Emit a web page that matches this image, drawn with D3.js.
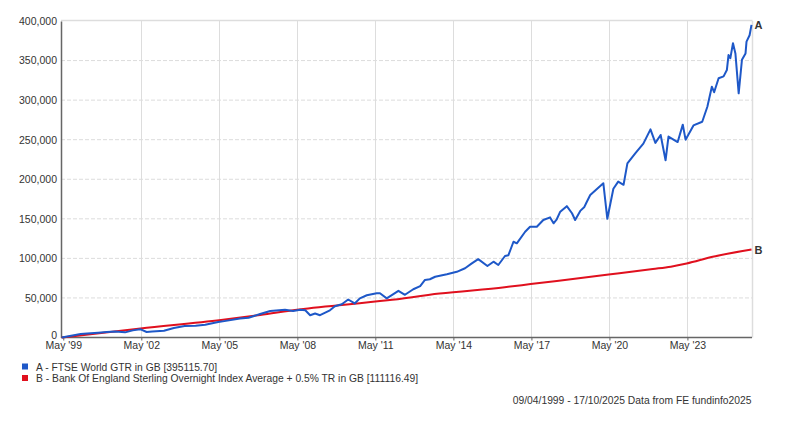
<!DOCTYPE html>
<html>
<head>
<meta charset="utf-8">
<script src="https://cdn.jsdelivr.net/npm/d3@7"></script>
<style>
  html, body { margin: 0; padding: 0; background: #fff; }
  svg { display: block; font-family: "Liberation Sans", Arial, sans-serif; }
</style>
</head>
<body>
<svg id="chart" width="800" height="430"></svg>
<script>
// ---- data ----
const seriesNames = [
  "A - FTSE World GTR in GB [395115.70]",
  "B - Bank Of England Sterling Overnight Index Average + 0.5% TR in GB [111116.49]"
];
const seriesTags = ["A", "B"];
const footerText = "09/04/1999 - 17/10/2025 Data from FE fundinfo2025";
const startDate = "1999-04-09";
const endDate = "2025-10-17";
const yTickValues = [0, 50000, 100000, 150000, 200000, 250000, 300000, 350000, 400000];
const xTickDates = ["1999-05-01","2002-05-01","2005-05-01","2008-05-01","2011-05-01","2014-05-01","2017-05-01","2020-05-01","2023-05-01"];

const ftseDates = [
  "1999-04-09","1999-08-01","1999-12-31","2000-04-01","2000-09-01","2001-01-01","2001-05-01","2001-09-15",
  "2002-01-01","2002-04-15","2002-07-15","2002-10-01","2003-03-15","2003-08-01","2003-12-31","2004-06-01",
  "2004-10-15","2005-04-15","2005-08-01","2006-02-15","2006-06-15","2006-11-25","2007-04-15","2007-11-10",
  "2008-03-01","2008-06-10","2008-08-20","2008-10-27","2009-01-05","2009-03-15","2009-08-01","2009-10-10",
  "2010-01-15","2010-04-15","2010-07-15","2010-09-25","2011-01-01","2011-05-20","2011-07-05","2011-10-08",
  "2012-03-20","2012-06-20","2012-10-15","2013-01-20","2013-03-28","2013-06-05","2013-08-18","2014-01-30",
  "2014-06-18","2014-10-12","2015-01-15","2015-04-15","2015-08-22","2015-11-15","2016-01-22","2016-04-25",
  "2016-06-12","2016-08-22","2016-10-08","2017-02-02","2017-04-12","2017-07-16","2017-10-15","2018-01-18",
  "2018-03-08","2018-04-22","2018-06-10","2018-09-10","2018-11-22","2019-01-05","2019-03-18","2019-05-15",
  "2019-06-10","2019-08-05","2019-10-30","2020-02-05",
  "2020-04-01","2020-06-25","2020-09-01","2020-11-15","2021-01-08","2021-05-01","2021-08-20","2021-11-28",
  "2022-02-05","2022-04-20","2022-06-28","2022-08-08","2022-12-15","2023-02-25","2023-04-05","2023-07-25",
  "2023-11-25","2024-02-05","2024-04-08","2024-05-10","2024-07-12","2024-09-20","2024-11-05","2024-11-28",
  "2024-12-24","2025-01-30","2025-03-05","2025-04-20","2025-06-05","2025-07-25","2025-08-08","2025-09-20",
  "2025-10-17"
];
const ftseValues = [
  0, 1800, 4500, 5200, 6000, 6800, 7500, 6500,
  9000, 10500, 7000, 7500, 8500, 12000, 14500, 15000,
  16000, 19500, 21000, 24000, 25000, 29700, 33500, 35000,
  33500, 35000, 34400, 28200, 30300, 28200, 34400, 39500,
  42000, 48000, 43000, 49400, 53400, 56000, 56000, 49500,
  59000, 54000, 61000, 65000, 72700, 73600, 76800, 80000,
  83000, 87500, 93600, 99000, 90400, 95800, 91600, 103000,
  104000, 121000, 119000, 133700, 140000, 140000, 148500, 151800,
  144300, 149400, 159000, 166000, 157000, 148500, 160000, 165000,
  170000, 180000, 187000, 195000,
  150000, 188000, 197000, 193000, 220000, 233000, 245000, 263000,
  246000, 256000, 224000, 254000, 247000, 269000, 250000, 268000,
  272700, 291600, 317000, 310000, 327600, 330000, 338000, 357000,
  353000, 372000, 359000, 308600, 351000, 359000, 374000, 382000,
  395115.7
];

const boeDates = [
  "1999-04-09","2002-04-20","2005-05-25","2006-11-25","2008-05-25","2011-10-20","2013-10-20",
  "2016-04-20","2017-04-20","2020-04-20","2022-01-01","2022-09-10","2023-04-20","2024-04-20","2025-10-17"
];
const boeValues = [
  0, 11500, 22000, 28500, 35500, 47000, 55500,
  63500, 67500, 79500, 86500, 89500, 93500, 102000, 111116.49
];

// ---- layout ----
const svg = d3.select("#chart");
const parse = d3.timeParse("%Y-%m-%d");
const plotLeft = 61, plotRight = 752, plotTop = 21, plotBottom = 337.5;
const colors = ["#1e58c8", "#e0101e"];

const x = d3.scaleTime()
  .domain([parse(startDate), parse(endDate)])
  .range([61.7, 751.5]);
const y = d3.scaleLinear().domain([0, 400000]).range([plotBottom, plotTop]);

// horizontal dashed gridlines
svg.append("g")
  .selectAll("line")
  .data(yTickValues.filter(v => v > 0 && v < 400000))
  .join("line")
  .attr("x1", plotLeft).attr("x2", plotRight)
  .attr("y1", d => y(d)).attr("y2", d => y(d))
  .attr("stroke", "#dcdcdc").attr("stroke-width", 1)
  .attr("stroke-dasharray", "4,2");

// vertical solid gridlines
svg.append("g")
  .selectAll("line")
  .data(xTickDates.slice(1).map(parse))
  .join("line")
  .attr("x1", d => Math.round(x(d)) + 0.5).attr("x2", d => Math.round(x(d)) + 0.5)
  .attr("y1", plotTop).attr("y2", plotBottom)
  .attr("stroke", "#dddddd").attr("stroke-width", 1);

// top & right border
svg.append("line").attr("x1", plotLeft).attr("x2", plotRight + 0.5)
  .attr("y1", plotTop - 0.5).attr("y2", plotTop - 0.5)
  .attr("stroke", "#dddddd").attr("stroke-width", 1.5);
svg.append("line").attr("x1", plotRight + 0.5).attr("x2", plotRight + 0.5)
  .attr("y1", plotTop).attr("y2", plotBottom)
  .attr("stroke", "#dddddd").attr("stroke-width", 1.5);

// y axis
const yAxis = d3.axisLeft(y).tickValues(yTickValues).tickFormat(d3.format(",")).tickSize(0).tickPadding(4);
const gy = svg.append("g").attr("transform", `translate(${plotLeft},0)`).call(yAxis);
gy.select(".domain").attr("stroke", "#666").attr("stroke-width", 1.5);
gy.selectAll("text").attr("font-size", "10.5px").attr("fill", "#333")
  .attr("font-family", "Liberation Sans, Arial, sans-serif");
gy.selectAll(".tick").filter(d => d === 0).select("text").attr("dy", "0.1em");

// x axis
const xAxis = d3.axisBottom(x).tickValues(xTickDates.map(parse))
  .tickFormat(d3.timeFormat("%b '%y")).tickSize(3).tickPadding(1.5);
const gx = svg.append("g").attr("transform", `translate(0,${plotBottom})`).call(xAxis);
gx.select(".domain").attr("stroke", "#666").attr("stroke-width", 1.5)
  .attr("d", `M${plotLeft},0H${plotRight}`);
gx.selectAll(".tick line").attr("stroke", "#666");
gx.selectAll("text").attr("font-size", "10.5px").attr("fill", "#333")
  .attr("font-family", "Liberation Sans, Arial, sans-serif");

// lines
const ftse = ftseDates.map((d, i) => ({ date: parse(d), value: ftseValues[i] }));
const boe = boeDates.map((d, i) => ({ date: parse(d), value: boeValues[i] }));

const lineLinear = d3.line().x(d => x(d.date)).y(d => y(d.value));
const lineSmooth = d3.line().x(d => x(d.date)).y(d => y(d.value)).curve(d3.curveMonotoneX);

svg.append("path").datum(boe).attr("d", lineSmooth)
  .attr("fill", "none").attr("stroke", colors[1]).attr("stroke-width", 2);
svg.append("path").datum(ftse).attr("d", lineLinear)
  .attr("fill", "none").attr("stroke", colors[0]).attr("stroke-width", 2)
  .attr("stroke-linejoin", "round");

// end tags
const lastPoints = [ftse[ftse.length - 1], boe[boe.length - 1]];
svg.append("g").selectAll("text").data(lastPoints).join("text")
  .attr("x", d => x(d.date) + 3)
  .attr("y", d => y(d.value) + 4)
  .attr("font-size", "11px").attr("font-weight", "bold").attr("fill", "#333")
  .text((d, i) => seriesTags[i]);

// legend
const leg = svg.append("g");
seriesNames.forEach((name, i) => {
  leg.append("rect").attr("x", 22).attr("y", 363.5 + i * 11.5).attr("width", 6).attr("height", 6)
    .attr("fill", colors[i]);
  leg.append("text").attr("x", 36).attr("y", 370.5 + i * 11.5)
    .attr("font-size", "10.3px").attr("fill", "#333").text(name);
});

// footer
svg.append("text").attr("x", 751.5).attr("y", 404).attr("text-anchor", "end")
  .attr("font-size", "10.3px").attr("fill", "#333").text(footerText);
</script>
</body>
</html>
